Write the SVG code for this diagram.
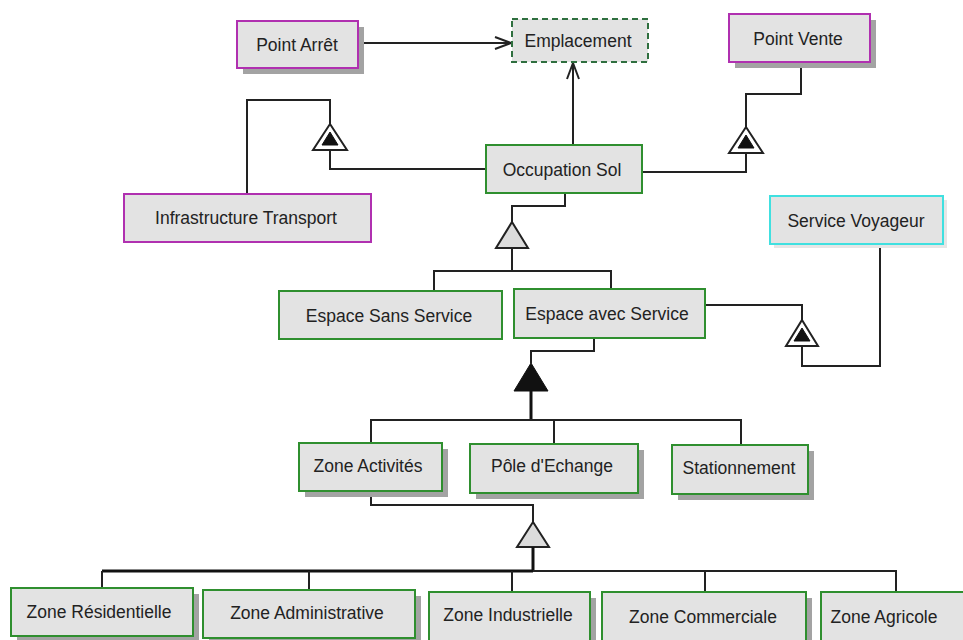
<svg xmlns="http://www.w3.org/2000/svg" width="963" height="640" viewBox="0 0 963 640">
<defs>
<style>
.box{fill:#e3e3e3;stroke-width:2}
.g{stroke:#2f8f2f}
.m{stroke:#b030b0}
.c{stroke:#40e0e0}
.d{stroke:#2f6f3f;stroke-dasharray:6 4}
.sh{fill:#a3a3a3}
.shl{fill:#e6e6e6}
text{font-family:"Liberation Sans",Arial,sans-serif;font-size:17.5px;fill:#222;text-anchor:middle}
.ln{fill:none;stroke:#222;stroke-width:2}
.th{fill:none;stroke:#111;stroke-width:3}
.tri{fill:#fff;stroke:#222;stroke-width:2}
.gt{fill:#dcdcdc;stroke:#222;stroke-width:2}
.bt{fill:#111;stroke:#111;stroke-width:1}
</style>
<marker id="open" markerWidth="20" markerHeight="20" refX="17" refY="7" orient="auto" markerUnits="userSpaceOnUse">
<path d="M1,1 L17,7 L1,13" fill="none" stroke="#222" stroke-width="2"/>
</marker>
</defs>
<rect width="963" height="640" fill="#fff"/>

<g id="connectors">
<path class="ln" d="M358,43 H511" marker-end="url(#open)"/>
<path class="ln" d="M573,145 V63" marker-end="url(#open)"/>
<path class="ln" d="M486,169 H330 V150"/>
<path class="ln" d="M330,124 V100 H247 V194"/>
<polygon class="tri" points="330,124 347,150 313,150"/>
<polygon class="bt" points="330,132 338,145 322,145"/>
<path class="ln" d="M642,172 H746 V153"/>
<path class="ln" d="M746,127 V94 H801 V62"/>
<polygon class="tri" points="746,127 763,153 729,153"/>
<polygon class="bt" points="746,135 754,148 738,148"/>
<path class="ln" d="M705,305 H802 V320"/>
<path class="ln" d="M802,346 V366 H880 V244"/>
<polygon class="tri" points="802,320 818,346 786,346"/>
<polygon class="bt" points="802,328 810,341 794,341"/>
<path class="ln" d="M565,193 V206 H512 V222"/>
<polygon class="gt" points="512,222 528,248 496,248"/>
<path class="ln" d="M512,248 V271"/>
<path class="ln" d="M434,291 V271 H611 V289"/>
<path class="ln" d="M594,338 V351 H531 V363"/>
<polygon class="bt" points="531,363 548,391 514,391"/>
<path class="th" d="M531,391 V420"/>
<path class="ln" d="M371,443 V420 H741 V445"/>
<path class="ln" d="M554,420 V444"/>
<path class="ln" d="M371,491 V505 H533 V522"/>
<polygon class="gt" points="533,522 549,547 517,547"/>
<path class="th" d="M533,547 V571"/>
<path class="th" d="M102,571 H533"/>
<path class="ln" d="M533,571 H896 V592"/>
<path class="ln" d="M102,571 V588"/>
<path class="ln" d="M309,571 V590"/>
<path class="ln" d="M512,571 V592"/>
<path class="ln" d="M705,571 V592"/>
</g>

<g id="point-arret">
<rect class="sh" x="243" y="27" width="121" height="47"/>
<rect class="box m" x="237" y="21" width="121" height="47"/>
<text x="297" y="51">Point Arrêt</text>
</g>
<g id="emplacement">
<rect class="box d" x="512" y="19" width="136" height="43"/>
<text x="578" y="47">Emplacement</text>
</g>
<g id="point-vente">
<rect class="sh" x="735" y="20" width="141" height="48"/>
<rect class="box m" x="729" y="14" width="141" height="48"/>
<text x="798" y="45">Point Vente</text>
</g>
<g id="occupation-sol">
<rect class="box g" x="486" y="145" width="156" height="48"/>
<text x="562" y="176">Occupation Sol</text>
</g>
<g id="infrastructure-transport">
<rect class="box m" x="124" y="194" width="247" height="48"/>
<text x="246" y="224">Infrastructure Transport</text>
</g>
<g id="service-voyageur">
<rect class="shl" x="774" y="200" width="173" height="48"/>
<rect class="box c" x="770" y="196" width="173" height="48"/>
<text x="856" y="227">Service Voyageur</text>
</g>
<g id="espace-sans-service">
<rect class="box g" x="279" y="291" width="223" height="48"/>
<text x="389" y="322">Espace Sans Service</text>
</g>
<g id="espace-avec-service">
<rect class="box g" x="514" y="289" width="191" height="49"/>
<text x="607" y="320">Espace avec Service</text>
</g>
<g id="zone-activites">
<rect class="sh" x="305" y="449" width="143" height="48"/>
<rect class="box g" x="299" y="443" width="143" height="48"/>
<text x="368" y="472">Zone Activités</text>
</g>
<g id="pole-echange">
<rect class="sh" x="476" y="450" width="168" height="49"/>
<rect class="box g" x="470" y="444" width="168" height="49"/>
<text x="552" y="472">Pôle d'Echange</text>
</g>
<g id="stationnement">
<rect class="sh" x="678" y="451" width="136" height="49"/>
<rect class="box g" x="672" y="445" width="136" height="49"/>
<text x="739" y="474">Stationnement</text>
</g>
<g id="zone-residentielle">
<rect class="sh" x="17" y="594" width="182" height="48"/>
<rect class="box g" x="11" y="588" width="182" height="48"/>
<text x="99" y="618">Zone Résidentielle</text>
</g>
<g id="zone-administrative">
<rect class="sh" x="209" y="596" width="212" height="48"/>
<rect class="box g" x="203" y="590" width="212" height="48"/>
<text x="307" y="619">Zone Administrative</text>
</g>
<g id="zone-industrielle">
<rect class="sh" x="435" y="598" width="161" height="48"/>
<rect class="box g" x="429" y="592" width="161" height="49"/>
<text x="508" y="621">Zone Industrielle</text>
</g>
<g id="zone-commerciale">
<rect class="sh" x="608" y="598" width="204" height="48"/>
<rect class="box g" x="602" y="592" width="204" height="49"/>
<text x="703" y="623">Zone Commerciale</text>
</g>
<g id="zone-agricole">
<rect class="box g" x="821" y="592" width="150" height="49"/>
<text x="884" y="623">Zone Agricole</text>
</g>
</svg>
